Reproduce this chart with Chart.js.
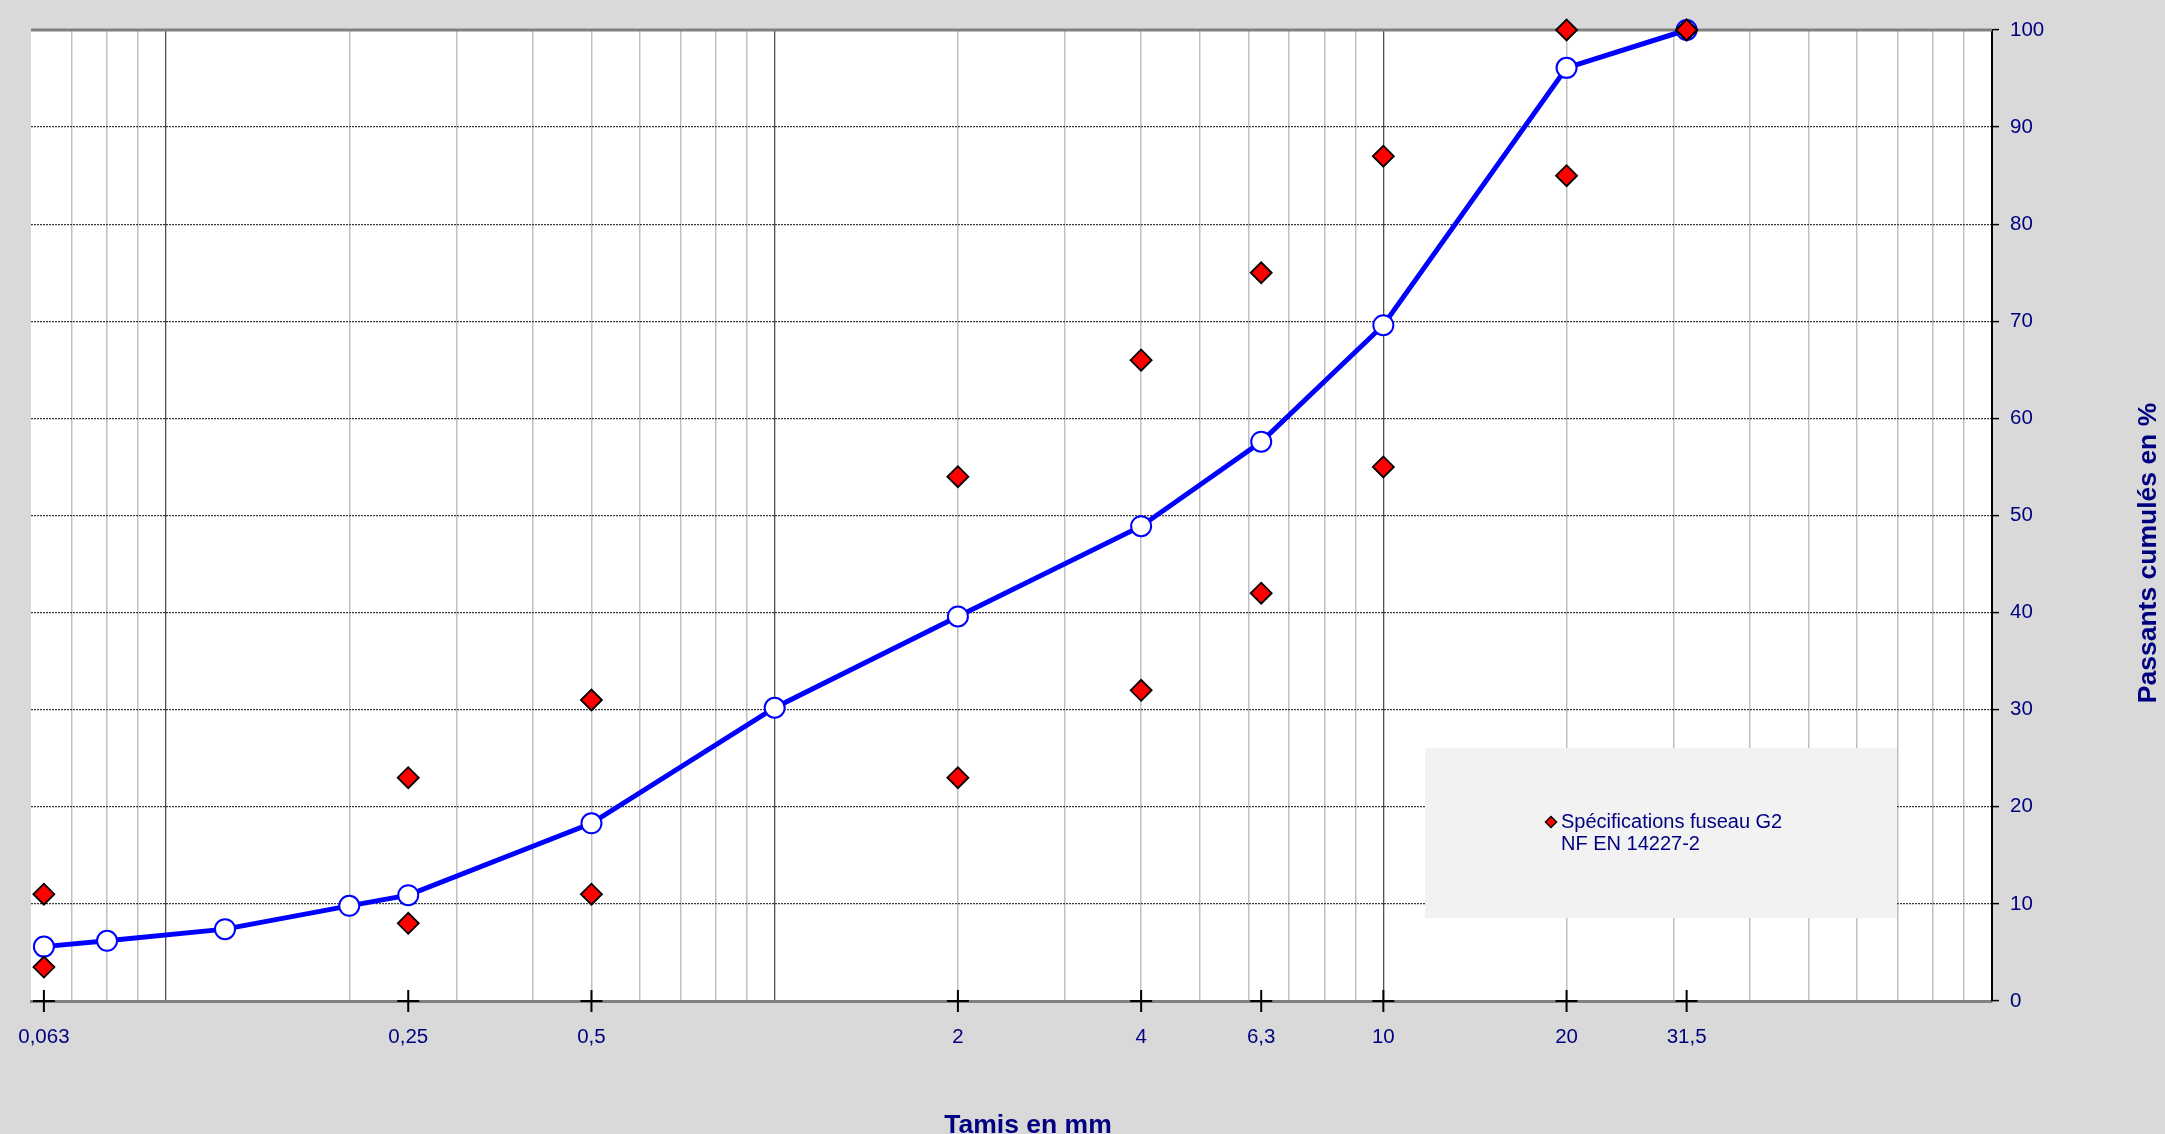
<!DOCTYPE html>
<html lang="fr">
<head>
<meta charset="utf-8">
<title>Courbe granulométrique</title>
<script src="https://cdn.jsdelivr.net/npm/chart.js@4.4.1/dist/chart.umd.min.js"></script>
<style>
  html, body { margin: 0; padding: 0; background: #d9d9d9; overflow: hidden; }
  canvas { display: block; }
</style>
</head>
<body>
<canvas id="granulo" width="2165" height="1134"></canvas>
<script>
/* ===== DATA ===== */
const sieveSizes = [0.063, 0.08, 0.125, 0.2, 0.25, 0.5, 1, 2, 4, 6.3, 10, 20, 31.5];
const passingPct = [5.6, 6.2, 7.4, 9.8, 10.9, 18.3, 30.2, 39.6, 48.9, 57.6, 69.6, 96.1, 100];

const specSizes = [0.063, 0.25, 0.5, 2, 4, 6.3, 10, 20, 31.5];
const specLow   = [3.5, 8, 11, 23, 32, 42, 55, 85, 100];
const specHigh  = [11, 23, 31, 54, 66, 75, 87, 100, 100];
const specLabel = ['Spécifications fuseau G2', 'NF EN 14227-2'];

const tickValues = [0.063, 0.25, 0.5, 2, 4, 6.3, 10, 20, 31.5];
const tickLabels = ['0,063', '0,25', '0,5', '2', '4', '6,3', '10', '20', '31,5'];

const xTitle = 'Tamis en mm';
const yTitle = 'Passants cumulés en %';

/* ===== STYLE ===== */
const NAVY = '#000080';
const FONT = 'Arial, "Liberation Sans", sans-serif';
const X_MIN = 0.06, X_MAX = 100;

function sameValue(a, b) { return Math.abs(a - b) < 1e-9; }

// 1..9 x 10^n values get a vertical line, decades a darker one
function gridKind(v) {
  if (sameValue(v, X_MIN)) return 'none';
  const exp = Math.floor(Math.log10(v) + 1e-9);
  const mant = v / Math.pow(10, exp);
  if (Math.abs(mant - Math.round(mant)) > 1e-6) return 'none';
  return Math.round(mant) === 1 ? 'major' : 'minor';
}

/* ===== PLUGINS ===== */
const plotFrame = {
  id: 'plotFrame',
  beforeDraw(chart) {
    const { ctx, chartArea: a } = chart;
    ctx.save();
    ctx.fillStyle = '#ffffff';
    ctx.fillRect(a.left, a.top, a.right - a.left, a.bottom - a.top);
    ctx.restore();
  },
  beforeDatasetsDraw(chart) {
    const { ctx, chartArea: a } = chart;
    ctx.save();
    ctx.strokeStyle = '#808080';
    ctx.lineWidth = 3;
    ctx.beginPath();
    ctx.moveTo(a.left, a.top);
    ctx.lineTo(a.right, a.top);
    ctx.stroke();

    // legend panel
    const bx = a.left + 1394, by = a.top + 718;
    ctx.fillStyle = '#f2f2f2';
    ctx.fillRect(bx, by, 472, 170);

    const mx = bx + 126, my = by + 74;
    ctx.fillStyle = '#ff0000';
    ctx.strokeStyle = '#000000';
    ctx.lineWidth = 1.5;
    ctx.beginPath();
    ctx.moveTo(mx, my - 5.5);
    ctx.lineTo(mx + 5.5, my);
    ctx.lineTo(mx, my + 5.5);
    ctx.lineTo(mx - 5.5, my);
    ctx.closePath();
    ctx.fill();
    ctx.stroke();

    const label = chart.data.datasets[0].label;
    ctx.fillStyle = NAVY;
    ctx.font = '20px ' + FONT;
    ctx.textAlign = 'left';
    ctx.textBaseline = 'middle';
    label.forEach((line, i) => ctx.fillText(line, bx + 136, my + i * 22.6));
    ctx.restore();
  }
};

const axisTitles = {
  id: 'axisTitles',
  afterDraw(chart) {
    const { ctx } = chart;
    ctx.save();
    ctx.fillStyle = NAVY;
    ctx.font = 'bold 26.5px ' + FONT;
    ctx.textAlign = 'center';
    ctx.textBaseline = 'alphabetic';
    ctx.fillText(xTitle, 1028, 1133);

    ctx.translate(2149, 553);
    ctx.rotate(-Math.PI / 2);
    ctx.textBaseline = 'middle';
    ctx.fillText(yTitle, 0, 0);
    ctx.restore();
  }
};

/* ===== CHART ===== */
const curvePoints = sieveSizes.map((s, i) => ({ x: s, y: passingPct[i] }));
const specPoints = specSizes.flatMap((s, i) => [{ x: s, y: specLow[i] }, { x: s, y: specHigh[i] }]);
const crossPoints = tickValues.map(v => ({ x: v, y: 0 }));

new Chart(document.getElementById('granulo'), {
  type: 'scatter',
  data: {
    datasets: [
      { label: specLabel, data: specPoints, showLine: false, clip: false,
        pointStyle: 'rectRot', pointRadius: 10.5, pointBackgroundColor: '#ff0000',
        pointBorderColor: '#000000', pointBorderWidth: 1.8 },
      { label: 'Passants', data: curvePoints, showLine: true, clip: false,
        borderColor: '#0000ff', borderWidth: 5, tension: 0,
        pointRadius: 10, pointBackgroundColor: '#ffffff',
        pointBorderColor: '#0000ff', pointBorderWidth: 2 },
      { label: 'Tamis', data: crossPoints, showLine: false, clip: false,
        pointStyle: 'cross', pointRadius: 11, pointBorderColor: '#000000', pointBorderWidth: 2 }
    ]
  },
  options: {
    responsive: false,
    animation: false,
    devicePixelRatio: 1,
    events: [],
    layout: { padding: { left: 31, top: 30, right: 0, bottom: 0 } },
    plugins: { legend: { display: false }, tooltip: { enabled: false } },
    scales: {
      x: {
        type: 'logarithmic',
        min: X_MIN,
        max: X_MAX,
        afterBuildTicks: (scale) => {
          const ticks = scale.ticks.slice();
          tickValues.forEach(v => {
            if (!ticks.some(t => sameValue(t.value, v))) ticks.push({ value: v });
          });
          ticks.sort((p, q) => p.value - q.value);
          scale.ticks = ticks;
        },
        afterFit: (scale) => { scale.height = 133; },
        grid: {
          drawTicks: false,
          color: (c) => {
            const k = gridKind(c.tick.value);
            return k === 'major' ? '#505050' : k === 'minor' ? '#c0c0c0' : 'rgba(0,0,0,0)';
          },
          lineWidth: (c) => gridKind(c.tick.value) === 'major' ? 1.3 : 1.5
        },
        border: { display: true, color: '#808080', width: 3 },
        ticks: {
          autoSkip: false, maxRotation: 0, minRotation: 0, padding: 24,
          color: NAVY, font: { family: FONT, size: 20.5 },
          callback: (value) => {
            const i = tickValues.findIndex(v => sameValue(v, value));
            return i >= 0 ? tickLabels[i] : '';
          }
        }
      },
      y: {
        position: 'right',
        min: 0,
        max: 100,
        afterFit: (scale) => { scale.width = 173; },
        grid: {
          color: (c) => (c.tick.value === 0 || c.tick.value === 100) ? 'rgba(0,0,0,0)' : '#3a3a3a',
          lineWidth: 1.2,
          tickColor: '#000000',
          tickLength: 7,
          tickWidth: 1.5
        },
        border: { color: '#000000', width: 2, dash: [2, 1] },
        ticks: { stepSize: 10, padding: 11, color: NAVY, font: { family: FONT, size: 20.5 } }
      }
    }
  },
  plugins: [plotFrame, axisTitles]
});
</script>
</body>
</html>
